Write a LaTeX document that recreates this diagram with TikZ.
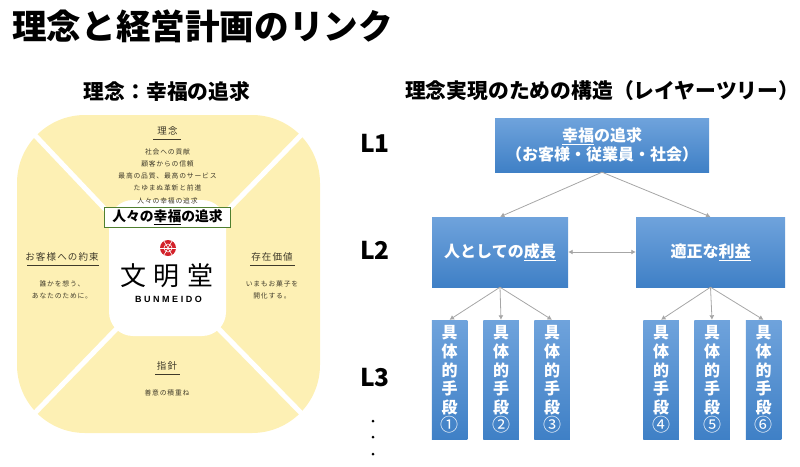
\documentclass[tikz,border=0pt]{standalone}
\usepackage{fontspec}
\setmainfont{Noto Sans CJK JP}
\newfontfamily\smallcjk[LetterSpace=12]{Noto Sans CJK JP}
\newfontfamily\logocjk[LetterSpace=30]{Noto Sans CJK JP}
\newfontfamily\logolatin[LetterSpace=28]{Liberation Sans}
\usetikzlibrary{arrows.meta,shadows}
\definecolor{creamfill}{HTML}{FDF0B4}
\definecolor{inktext}{HTML}{3F3A2A}
\definecolor{linkgray}{HTML}{A6A6A6}
\definecolor{framegreen}{HTML}{4F7F2F}
\definecolor{boxtop}{HTML}{6FA3DC}
\definecolor{boxbottom}{HTML}{3F80C6}
\definecolor{sealred}{HTML}{D3222A}
\newcommand{\fsz}[2]{\fontsize{#1}{#2}\selectfont}
\newcommand{\shudan}[1]{具\\体\\的\\手\\段\\{\mdseries\fsz{18}{18.6}#1}}
\tikzstyle{heading} = [inner sep=0pt, font=\bfseries\fsz{20.8}{24}]
\tikzstyle{level} = [inner sep=0pt, font=\bfseries\fsz{24.5}{28}]
\tikzstyle{blue} = [inner sep=0pt, align=center, text=white, top color=boxtop, bottom color=boxbottom, drop shadow={shadow xshift=0pt, shadow yshift=-1pt, opacity=.35}, font=\bfseries\fsz{16}{19}]
\tikzstyle{leaf} = [blue, minimum width=35.5pt, minimum height=119pt, font=\bfseries\fsz{16}{18.6}]
\tikzstyle{link} = [draw=linkgray, line width=.8pt, -{Latex[length=4.5pt,width=5pt]}]
\tikzstyle{band} = [white, line width=5pt]
\tikzstyle{caption} = [inner sep=0pt, text=inktext, font=\smallcjk\fsz{9.5}{12}]
\tikzstyle{fine} = [inner sep=0pt, align=center, text=inktext, font=\smallcjk\fsz{6.8}{12.1}]
\tikzstyle{rule} = [inktext, line width=.7pt]
\begin{document}
\begin{tikzpicture}[x=1pt,y=-1pt]
            \useasboundingbox (0,0) rectangle (800,466);
            \node[inner sep=0pt, anchor=west, font=\bfseries\fsz{34.6}{38}] (title) at (12,26) {理念と経営計画のリンク};
            \node[heading] (leftbar) at (167,91) {理念：幸福の追求};
            \node[heading] (rightbar) at (602.2,91) {理念実現のための構造（レイヤーツリー）};

            % left side
            \fill[creamfill, rounded corners=68pt] (17,115) rectangle (320,433);
            \draw[band] (30,130) -- (120,225);
            \draw[band] (306,130) -- (222,216);
            \draw[band] (30,418) -- (125,320);
            \draw[band] (306,418) -- (209,319);
            \fill[white, rounded corners=24pt] (109,200) rectangle (226,336);

            \node[caption] (rinen) at (167.5,131) {理念};
            \draw[rule] (153,139) -- (181,139);
            \node[fine] (rinentext) at (167.5,176.3) {社会への貢献\\顧客からの信頼\\最高の品質、最高のサービス\\たゆまぬ革新と前進\\人々の幸福の追求};
            \node[caption] (yakusoku) at (62,257) {お客様への約束};
            \draw[rule] (27,265) -- (99,265);
            \node[fine] (yakusokutext) at (62,289.5) {誰かを想う、\\あなたのために。};
            \node[caption] (sonzai) at (272,257) {存在価値};
            \draw[rule] (250,265) -- (295,265);
            \node[fine] (sonzaitext) at (272,289.5) {いまもお菓子を\\開化する。};
            \node[caption] (shishin) at (167,366) {指針};
            \draw[rule] (155,374) -- (180,374);
            \node[fine] (shishintext) at (167,393) {善意の積重ね};

            \node[draw=framegreen, line width=1.5pt, fill=white, minimum width=126pt, minimum height=20pt, inner sep=0pt, font=\bfseries\fsz{13.8}{16}] (pursuit) at (167.5,217.5) {人々の\underline{幸福}の追求};

            % logo
            \node[circle, fill=sealred, minimum size=16pt, inner sep=0pt] (seal) at (168,248) {};
            \foreach \ang in {0,60,...,300} {
                \draw[white, line width=.6pt] (seal.center) -- (seal.\ang);
            }
            \draw[white, line width=.6pt] (seal.center) circle (4pt);
            \node[inner sep=0pt, font=\logocjk\fsz{26}{30}] (logoname) at (167,276) {文明堂};
            \node[inner sep=0pt, font=\logolatin\bfseries\fsz{9}{10}] (logolatin) at (168.5,299) {BUNMEIDO};

            % right side
            \node[level] (lone) at (375,143) {L1};
            \node[level] (ltwo) at (375,250) {L2};
            \node[level] (lthree) at (375,378) {L3};
            \foreach \nm/\cy in {d1/421,d2/437,d3/454} {
                \node[circle, fill=black, minimum size=3pt, inner sep=0pt] (\nm) at (373,\cy) {};
            }

            \node[blue, minimum width=214pt, minimum height=54pt] (top) at (602,145) {\underline{幸福}の追求\\（お客様・従業員・社会）};
            \node[blue, minimum width=136pt, minimum height=70pt] (growth) at (500,252) {人としての\underline{成長}};
            \node[blue, minimum width=149pt, minimum height=70pt] (profit) at (710.5,252) {適正な\underline{利益}};
            \draw[link] (top.south) -- (growth.north);
            \draw[link] (top.south) -- (profit.north);
            \draw[draw=linkgray, line width=.8pt, {Latex[length=4.5pt,width=5pt]}-{Latex[length=4.5pt,width=5pt]}] (growth.east) -- (profit.west);

            \foreach \nm/\cx/\num/\parent in {s1/449.5/①/growth, s2/501/②/growth, s3/552/③/growth, s4/661/④/profit, s5/712/⑤/profit, s6/763.5/⑥/profit} {
                \node[leaf] (\nm) at (\cx,379.5) {\shudan{\num}};
                \draw[link] (\parent.south) -- (\nm.north);
            }
\end{tikzpicture}
\end{document}
